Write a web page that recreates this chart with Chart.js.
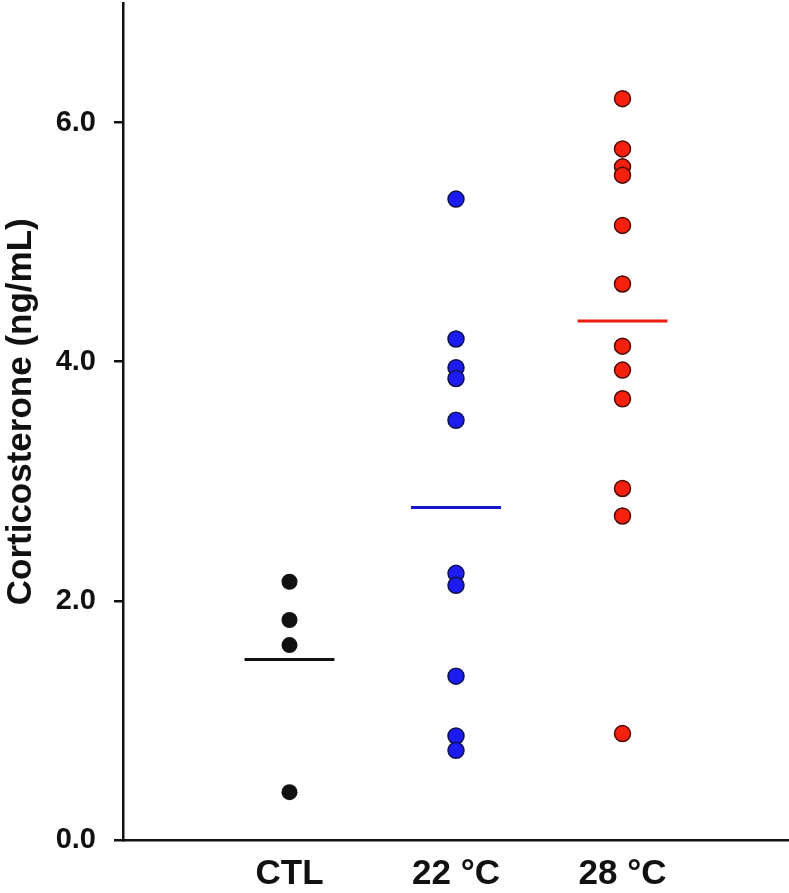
<!DOCTYPE html>
<html>
<head>
<meta charset="utf-8">
<script src="https://cdn.jsdelivr.net/npm/chart.js@4.4.1/dist/chart.umd.min.js"></script>
<style>
  html, body { margin: 0; padding: 0; background: #fff; }
  #wrap { width: 789px; height: 893px; position: relative; }
</style>
</head>
<body>
<div id="wrap"><canvas id="chart"></canvas></div>
<script>
// groups along the x axis
const categories = ['CTL', '22 °C', '28 °C'];

// individual values (ng/mL)
const ctlValues = [2.16, 1.84, 1.63, 0.40];
const t22Values = [5.36, 4.19, 3.95, 3.86, 3.51, 2.23, 2.13, 1.37, 0.87, 0.75];
const t28Values = [6.20, 5.78, 5.63, 5.56, 5.14, 4.65, 4.13, 3.93, 3.69, 2.94, 2.71, 0.89];

// horizontal mean bars
const meanValues = [1.51, 2.78, 4.34];

const yTicks = [0, 2, 4, 6];

const fillColors = ['#111111', '#1c1cf2', '#f5200e'];
const edgeColors = ['#111111', '#10104a', '#4a0c06'];
const meanColors = ['#111111', '#1414cc', '#ec1c10'];
const meanHalf = 0.27;

const groups = [ctlValues, t22Values, t28Values];

const datasets = [];

// mean bars first so the dots sit on top
meanValues.forEach((m, i) => {
    datasets.push({
        type: 'line',
        data: [{ x: i + 1 - meanHalf, y: m }, { x: i + 1 + meanHalf, y: m }],
        borderColor: meanColors[i],
        borderWidth: 3,
        pointRadius: 0,
        fill: false
    });
});

groups.forEach((vals, i) => {
    datasets.push({
        type: 'scatter',
        data: vals.map(v => ({ x: i + 1, y: v })),
        backgroundColor: fillColors[i],
        borderColor: edgeColors[i],
        borderWidth: i === 0 ? 0 : 1.5,
        pointRadius: 8,
        pointHoverRadius: 8
    });
});

// no extra room for end labels, the axes sit right on the canvas edges
const noEdgePad = axis => {
    axis.paddingTop = 0;
    axis.paddingBottom = 0;
    axis.paddingLeft = 0;
    axis.paddingRight = 0;
};

new Chart(document.getElementById('chart').getContext('2d'), {
    type: 'scatter',
    data: { datasets },
    options: {
        responsive: true,
        maintainAspectRatio: false,
        animation: false,
        layout: { autoPadding: false, padding: { top: 3, right: 0, bottom: 0, left: 0 } },
        plugins: {
            legend: { display: false },
            tooltip: { enabled: false }
        },
        scales: {
            x: {
                type: 'linear',
                min: 0,
                max: 4,
                afterBuildTicks: axis => {
                    axis.ticks = categories.map((c, i) => ({ value: i + 1 }));
                },
                afterFit: axis => { axis.height = 53; noEdgePad(axis); },
                grid: { display: false, drawTicks: false },
                border: { display: true, color: '#111', width: 2.5 },
                ticks: {
                    padding: 13,
                    color: '#111',
                    maxRotation: 0,
                    autoSkip: false,
                    font: { family: "'Liberation Sans', Arial, sans-serif", size: 35, weight: 'bold' },
                    callback: v => categories[v - 1] || ''
                }
            },
            y: {
                min: 0,
                max: 7,
                afterBuildTicks: axis => {
                    axis.ticks = yTicks.map(v => ({ value: v }));
                },
                afterFit: axis => { axis.width = 123; noEdgePad(axis); },
                grid: {
                    drawOnChartArea: false,
                    drawTicks: true,
                    tickLength: 9,
                    color: '#111',
                    lineWidth: 2.5
                },
                border: { display: true, color: '#111', width: 2.5 },
                ticks: {
                    padding: 18,
                    color: '#111',
                    font: { family: "'Liberation Sans', Arial, sans-serif", size: 29, weight: 'bold' },
                    callback: v => v.toFixed(1)
                },
                title: {
                    display: true,
                    text: '  Corticosterone (ng/mL)',
                    color: '#111',
                    padding: 0,
                    font: { family: "'Liberation Sans', Arial, sans-serif", size: 35, weight: 'bold' }
                }
            }
        }
    }
});
</script>
</body>
</html>
